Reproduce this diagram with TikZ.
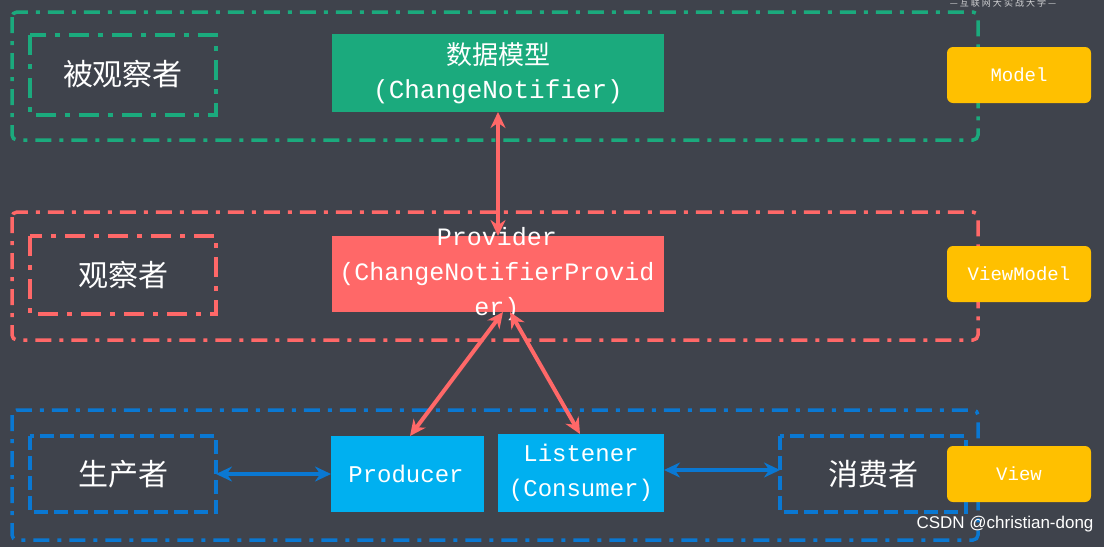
\documentclass[tikz,border=0pt]{standalone}
\usetikzlibrary{arrows.meta}
\usepackage{fontspec}
\setmainfont{Liberation Mono}
\newfontfamily\cjk{Noto Sans CJK SC}
\newfontfamily\sans{Liberation Sans}
\begin{document}
\begin{tikzpicture}[x=1pt,y=-1pt,
  dd/.style={line width=3.5pt,dash pattern=on 16pt off 8pt on 4pt off 8pt},
  di/.style={line width=4.5pt,dash pattern=on 20pt off 9pt on 5pt off 9pt},
  ds/.style={line width=3.5pt,dash pattern=on 14pt off 6pt},
  box/.style={draw=none,text=white,align=center,inner sep=0},
  cn/.style={text=white,font=\cjk\fontsize{30}{32}\selectfont},
  yel/.style={fill=yl,rounded corners=6pt,text=white,font=\fontsize{19}{22}\selectfont},
  arr/.style={line width=4pt,<->,>={Stealth[length=16pt,width=15pt]}}]
\definecolor{bg}{HTML}{3F434C}
\definecolor{gr}{HTML}{1BAA7D}
\definecolor{rd}{HTML}{FF6868}
\definecolor{bl}{HTML}{0A78D2}
\definecolor{cy}{HTML}{00B0F0}
\definecolor{yl}{HTML}{FFC000}
\fill[bg] (0,0) rectangle (1104,547);
\useasboundingbox (0,0) rectangle (1104,547);
\node[text=white!75!bg,font=\cjk\fontsize{9}{10}\selectfont] (wm) at (1003,3) {— 互 联 网 大 实 战 大 学 —};
% green
\draw[gr,dd,rounded corners=5pt] (12,12) rectangle (978,140);
\draw[gr,di] (30,35) rectangle (216,115);
\node[cn] (a) at (123,74) {被观察者};
\fill[gr] (332,34) rectangle (664,112);
\node[box,font=\fontsize{26}{34}\selectfont] (m) at (498,73) {{\cjk 数据模型}\\(ChangeNotifier)};
\coordinate (mb) at (498,112);
\node[yel,minimum width=144pt,minimum height=56pt] (M) at (1019,75) {Model};
% red
\draw[rd,dd,rounded corners=5pt] (12,212) rectangle (978,340);
\draw[rd,di] (30,236) rectangle (216,314);
\node[cn] (b) at (123,275) {观察者};
\fill[rd] (332,236) rectangle (664,312);
\node[box,font=\fontsize{25}{35}\selectfont] (p) at (497,274) {Provider\\(ChangeNotifierProvid\\er)};
\coordinate (pt) at (498,236);
\coordinate (pb1) at (503,312);
\coordinate (pb2) at (510,312);
\node[yel,minimum width=144pt,minimum height=56pt] (VM) at (1019,274) {ViewModel};
% blue
\draw[bl,dd,rounded corners=5pt] (12,410) rectangle (978,540);
\draw[bl,ds] (30,436) rectangle (216,512);
\draw[bl,ds] (780,436) rectangle (966,512);
\node[cn] (c) at (123,474) {生产者};
\node[cn] (d) at (873,474) {消费者};
\fill[cy] (331,436) rectangle (484,512);
\node[box,font=\fontsize{24}{30}\selectfont] (pr) at (406,474) {Producer};
\fill[cy] (498,434) rectangle (664,512);
\node[box,font=\fontsize{24}{35}\selectfont] (li) at (581,473) {Listener\\(Consumer)};
\node[yel,minimum width=144pt,minimum height=56pt] (V) at (1019,474) {View};
\coordinate (prt) at (410,436);
\coordinate (lit) at (580,434);
\coordinate (cr) at (216,474);
\coordinate (prl) at (331,474);
\coordinate (lir) at (664,470);
\coordinate (dl) at (780,470);
% arrows
\draw[arr,rd] (mb) -- (pt);
\draw[arr,rd] (pb1) -- (prt);
\draw[arr,rd] (pb2) -- (lit);
\draw[arr,bl] (cr) -- (prl);
\draw[arr,bl] (lir) -- (dl);
\node[text=white,font=\sans\fontsize{17}{19}\selectfont,anchor=east] (csdn) at (1097,524) {CSDN @christian-dong};
\end{tikzpicture}
\end{document}
